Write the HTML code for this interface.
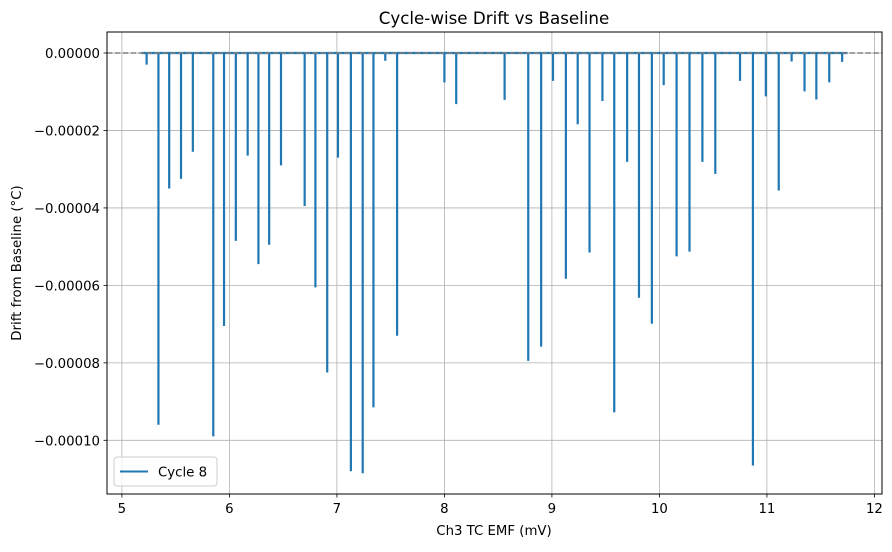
<!DOCTYPE html>
<html><head><meta charset="utf-8"><style>
body{margin:0;background:#fff;font-family:"Liberation Sans","DejaVu Sans",sans-serif;}
svg text{font-family:"DejaVu Sans","Liberation Sans",sans-serif;}
</style></head><body>
<svg id="chart" width="892" height="547" xmlns="http://www.w3.org/2000/svg">
<rect width="892" height="547" fill="#fff"/>
<g id="grid"></g><g id="axes"></g><g id="series"></g>
<rect x="107" y="32" width="775" height="462" fill="none" stroke="#000" stroke-width="1"/>
<text x="494" y="24" text-anchor="middle" font-size="16.7">Cycle-wise Drift vs Baseline</text>
<text x="494" y="535" text-anchor="middle" font-size="13.3">Ch3 TC EMF (mV)</text>
<text transform="translate(21,263) rotate(-90)" text-anchor="middle" font-size="13.3">Drift from Baseline (°C)</text>
<g>
<rect x="114" y="457" width="103" height="29" rx="3" fill="#fff" fill-opacity="0.8" stroke="#ccc"/>
<line x1="120" y1="471.5" x2="148" y2="471.5" stroke="#1f77b4" stroke-width="2"/>
<text x="158" y="476.5" font-size="13.3">Cycle 8</text>
</g>
</svg>
<script>
const xs=[5.23,5.34,5.44,5.55,5.66,5.85,5.95,6.06,6.17,6.27,6.37,6.48,6.70,6.80,6.91,7.01,7.13,7.24,7.34,7.45,7.56,8.0,8.11,8.56,8.78,8.90,9.01,9.13,9.24,9.35,9.47,9.58,9.70,9.81,9.93,10.04,10.16,10.28,10.40,10.52,10.75,10.87,10.99,11.11,11.23,11.35,11.46,11.58,11.70];
const drifts=[-0.000003,-0.000096,-0.000035,-0.0000325,-0.0000255,-0.000099,-0.0000705,-0.0000485,-0.0000265,-0.0000545,-0.0000495,-0.000029,-0.0000395,-0.0000605,-0.0000825,-0.000027,-0.000108,-0.0001085,-0.0000915,-0.000002,-0.000073,-0.0000076,-0.0000132,-0.0000121,-0.0000795,-0.0000758,-0.0000072,-0.0000583,-0.0000184,-0.0000515,-0.0000124,-0.0000928,-0.0000281,-0.0000632,-0.0000699,-0.0000083,-0.0000525,-0.0000513,-0.0000281,-0.0000312,-0.0000072,-0.0001065,-0.0000112,-0.0000355,-0.0000022,-0.0000099,-0.000012,-0.0000076,-0.0000023];
const xRange=[5.18,11.75];
const xTicks=[5,6,7,8,9,10,11,12];
const yTicks=[0,-0.00002,-0.00004,-0.00006,-0.00008,-0.0001];
const yTickLabels=["0.00000","\u22120.00002","\u22120.00004","\u22120.00006","\u22120.00008","\u22120.00010"];
const NS="http://www.w3.org/2000/svg";
const X=v=>121.9+(v-5)*107.5;
const Y=v=>53-v/1e-5*38.73;
function mk(t,a,p){const e=document.createElementNS(NS,t);for(const k in a)e.setAttribute(k,a[k]);p.appendChild(e);return e;}
const grid=document.getElementById('grid'),axes=document.getElementById('axes'),ser=document.getElementById('series');
xTicks.forEach(t=>{const x=X(t);
 const g=mk('line',{x1:x,x2:x,y1:32,y2:494,stroke:'#b0b0b0','stroke-width':0.8},grid);
 
 
 mk('line',{x1:x,x2:x,y1:494,y2:497.5,stroke:'#000','stroke-width':0.8},axes);
 const tx=mk('text',{x:x,y:513,'text-anchor':'middle','font-size':13.3},axes);tx.textContent=t;
 
 
});
yTicks.forEach((t,i)=>{const y=Y(t);
 const g=mk('line',{x1:107,x2:882,y1:y,y2:y,stroke:'#b0b0b0','stroke-width':0.8},grid);
 
 
 mk('line',{x1:103.5,x2:107,y1:y,y2:y,stroke:'#000','stroke-width':0.8},axes);
 const tx=mk('text',{x:100,y:y+5,'text-anchor':'end','font-size':13.3},axes);tx.textContent=yTickLabels[i];
 
 
});
let pts=[[X(xRange[0]),Y(0)]];
xs.forEach((x,i)=>{pts.push([X(x),Y(0)],[X(x),Y(drifts[i])],[X(x),Y(0)]);});
pts.push([X(xRange[1]),Y(0)]);
const pl=mk('polyline',{points:pts.map(p=>p.join(',')).join(' '),fill:'none',stroke:'#1f77b4','stroke-width':2.2,'stroke-linejoin':'miter'},ser);


const base=mk('line',{x1:107,x2:882,y1:Y(0),y2:Y(0),stroke:'#808080','stroke-width':1.5,'stroke-dasharray':'5.5,2.4'},ser);


</script>
</body></html>
